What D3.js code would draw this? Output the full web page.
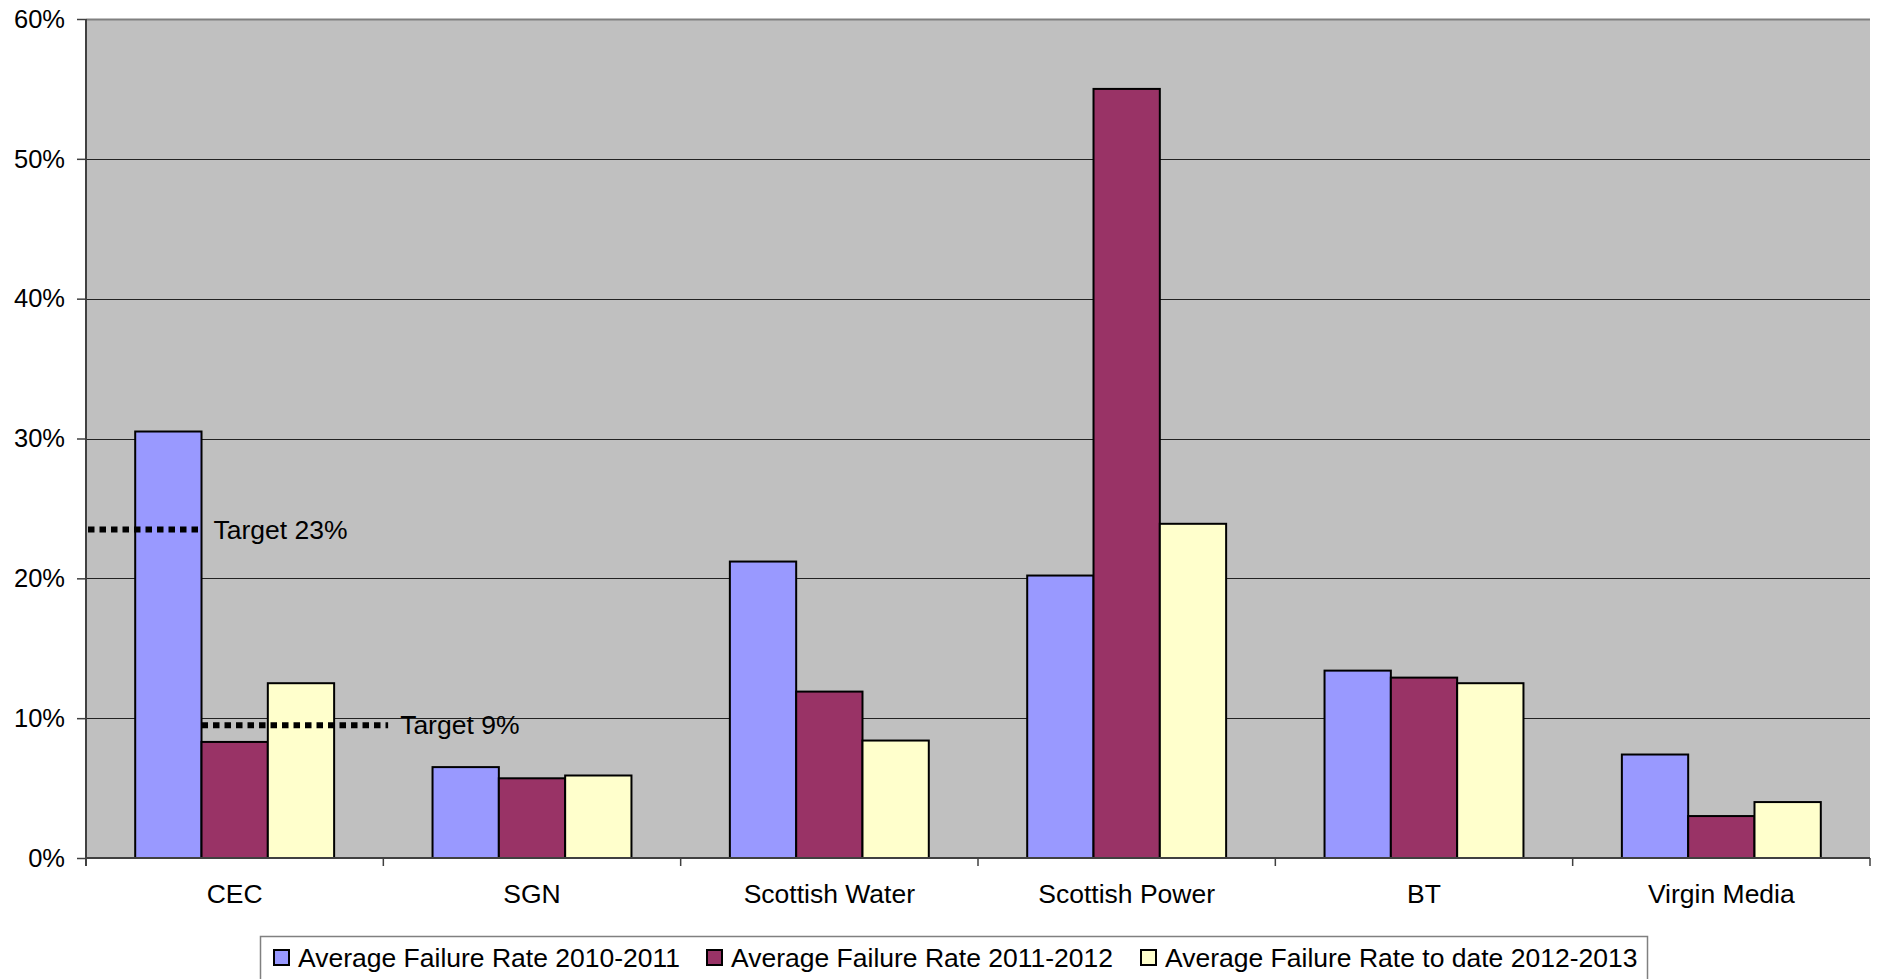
<!DOCTYPE html>
<html lang="en">
<head>
<meta charset="UTF-8">
<title>Average Failure Rate</title>
<script src="https://d3js.org/d3.v7.min.js"></script>
<style>
  body { margin: 0; background: #fff; font-family: Arial, "Liberation Sans", sans-serif; }
  text { font-family: Arial, "Liberation Sans", sans-serif; fill: #000; }
</style>
</head>
<body>
<div id="chart"></div>
<script>
// data
const categories = ["CEC", "SGN", "Scottish Water", "Scottish Power", "BT", "Virgin Media"];
const seriesNames = ["Average Failure Rate 2010-2011", "Average Failure Rate 2011-2012", "Average Failure Rate to date 2012-2013"];
const rate2010 = [30.5, 6.5, 21.2, 20.2, 13.4, 7.4];
const rate2011 = [8.3, 5.7, 11.9, 55.0, 12.9, 3.0];
const rate2012 = [12.5, 5.9, 8.4, 23.9, 12.5, 4.0];
const seriesColors = ["#9999ff", "#993366", "#ffffcc"];
const yTicks = [0, 10, 20, 30, 40, 50, 60];
// target lines drawn over the CEC group
const targetLabels = ["Target 23%", "Target 9%"];
const targetValues = [23.5, 9.5];

const width = 1877, height = 979;
const margin = { top: 19, left: 86, right: 7, bottom: 121 };
const W = width - margin.left - margin.right;
const H = height - margin.top - margin.bottom;
const fs = "26.5px";

const svg = d3.select("#chart").append("svg")
  .attr("width", width).attr("height", height);

const g = svg.append("g").attr("transform", `translate(${margin.left},${margin.top})`);

const x0 = d3.scaleBand().domain(categories).range([0, W]).padding(0);
const x1 = d3.scaleBand().domain(d3.range(3)).range([0, x0.bandwidth()])
  .paddingInner(0).paddingOuter(0.742);
const y = d3.scaleLinear().domain([0, 60]).range([H, 0]);

// plot area
g.append("rect").attr("width", W).attr("height", H).attr("fill", "#c0c0c0");

// gridlines
g.selectAll(".grid").data(yTicks.slice(1, -1)).enter().append("line")
  .attr("x1", 0).attr("x2", W)
  .attr("y1", d => Math.round(y(d)) + 0.5).attr("y2", d => Math.round(y(d)) + 0.5)
  .attr("stroke", "#222").attr("stroke-width", 1);

g.append("line").attr("x1", 0).attr("x2", W).attr("y1", 0.5).attr("y2", 0.5)
  .attr("stroke", "#808080").attr("stroke-width", 2);

// bars
const table = categories.map((c, i) => ({ cat: c, vals: [rate2010[i], rate2011[i], rate2012[i]] }));
const groups = g.selectAll(".grp").data(table).enter().append("g")
  .attr("transform", d => `translate(${x0(d.cat)},0)`);
groups.selectAll("rect").data(d => d.vals.map((v, k) => ({ v, k }))).enter().append("rect")
  .attr("x", d => x1(d.k))
  .attr("y", d => y(d.v))
  .attr("width", x1.bandwidth())
  .attr("height", d => H - y(d.v))
  .attr("fill", d => seriesColors[d.k])
  .attr("stroke", "#000").attr("stroke-width", 2);

// target lines
const cx = x0("CEC");
const targetSpans = [
  [2, cx + x1(0) + x1.bandwidth()],
  [cx + x1(1), cx + x1(2) + x1.bandwidth() + 54]
];
targetValues.forEach((v, i) => {
  const [xa, xb] = targetSpans[i];
  g.append("line")
    .attr("x1", xa).attr("x2", xb)
    .attr("y1", y(v)).attr("y2", y(v))
    .attr("stroke", "#000").attr("stroke-width", 6)
    .attr("stroke-dasharray", "6.5,5");
  g.append("text")
    .attr("x", xb + 12).attr("y", y(v))
    .attr("dy", "0.35em")
    .style("font-size", fs)
    .text(targetLabels[i]);
});

// y axis
const yAxis = g.append("g").call(d3.axisLeft(y).tickValues(yTicks).tickFormat(d => d + "%").tickSize(9).tickPadding(12));
yAxis.select(".domain").attr("stroke", "#404040").attr("stroke-width", 2)
  .attr("d", `M0,0V${H + 8}`);
yAxis.selectAll(".tick line").attr("stroke", "#404040").attr("stroke-width", 1.5);
yAxis.selectAll("text").style("font-size", "25.5px").attr("fill", "#000");

// x axis
const xAxis = g.append("g").attr("transform", `translate(0,${H})`);
xAxis.append("line").attr("x1", 0).attr("x2", W).attr("y1", 0).attr("y2", 0)
  .attr("stroke", "#404040").attr("stroke-width", 2);
xAxis.selectAll(".xt").data(d3.range(1, categories.length + 1)).enter().append("line")
  .attr("x1", i => i * x0.step()).attr("x2", i => i * x0.step())
  .attr("y1", 0).attr("y2", 8)
  .attr("stroke", "#404040").attr("stroke-width", 1.5);
xAxis.selectAll(".xl").data(categories).enter().append("text")
  .attr("x", d => x0(d) + x0.bandwidth() / 2)
  .attr("y", 45)
  .attr("text-anchor", "middle")
  .style("font-size", fs)
  .text(d => d);

// legend
const legend = svg.append("g").attr("transform", "translate(260,936)");
legend.append("rect").attr("x", 0.5).attr("y", 0.5).attr("width", 1387).attr("height", 60)
  .attr("fill", "#fff").attr("stroke", "#808080").attr("stroke-width", 1.5);
const itemX = [14, 447, 881];
seriesNames.forEach((name, k) => {
  legend.append("rect")
    .attr("x", itemX[k]).attr("y", 14).attr("width", 15).attr("height", 15)
    .attr("fill", seriesColors[k]).attr("stroke", "#000").attr("stroke-width", 2);
  legend.append("text")
    .attr("x", itemX[k] + 24).attr("y", 22).attr("dy", "0.35em")
    .style("font-size", fs)
    .text(name);
});
</script>
</body>
</html>
